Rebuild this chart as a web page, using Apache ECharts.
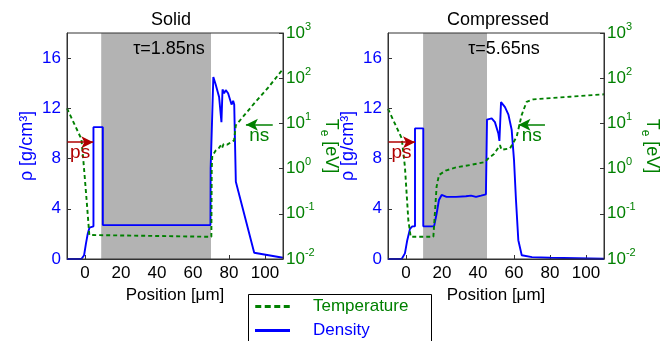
<!DOCTYPE html>
<html>
<head>
<meta charset="utf-8">
<script src="https://cdn.jsdelivr.net/npm/echarts@6/dist/echarts.min.js"></script>
<style>
  html, body { margin: 0; padding: 0; background: #fff; }
  #chart { width: 667px; height: 341px; }
</style>
</head>
<body>
<div id="chart"></div>
<script>
// Solid, tau = 1.85 ns : [position um, value]
const solidDensity = [
  [-10, 0], [-2, 0], [-0.5, 0.3], [0.5, 1.2], [1.5, 2.0], [2.5, 2.5], [3.2, 2.6], [4.7, 2.6],
  [4.7, 10.5], [9.9, 10.5], [9.9, 2.7], [69.7, 2.7], [69.8, 7.2], [70.4, 7.3], [71.3, 14.5],
  [72.6, 13.9], [74.5, 12.9], [75.8, 10.9], [76.4, 13.5], [77.3, 13.2], [78.2, 13.45],
  [79.5, 13.2], [80.6, 13.05], [81.4, 12.3], [82.3, 12.6], [82.9, 12.3], [83.5, 12.3],
  [83.8, 6.15], [94, 0.5], [110, 0.1]
]
const solidTemp = [
  [-10, 21.5], [-2, 4.5], [-0.9, 1.5], [0.9, 0.2], [2.4, 0.034], [3.2, 0.031], [70.2, 0.031],
  [70.4, 1.0], [70.7, 1.9], [72.6, 2.5], [74, 2.7], [75.5, 3.3], [76.2, 2.9], [77, 3.5],
  [79, 3.4], [82.8, 4.2], [83.8, 9.1], [94, 27.6], [101.5, 60], [110, 160]
]
// Compressed, tau = 5.65 ns
const compDensity = [
  [-10, 0], [-2.4, 0], [-0.6, 0.45], [0.7, 1.5], [2.2, 2.4], [3.5, 2.6], [5, 2.6], [5, 10.4],
  [9.6, 10.4], [9.6, 2.6], [15.6, 2.6], [17, 3.6], [18.3, 4.7], [19.8, 5.1], [22.5, 4.95],
  [27.8, 4.95], [33.3, 5.0], [36.1, 5.05], [38.9, 4.95], [41.7, 5.05], [44.4, 5.15],
  [45.0, 11.1], [47.6, 11.2], [49.4, 10.9], [51.3, 10.0], [51.9, 9.4], [52.8, 12.5],
  [55, 12.1], [56.9, 11.5], [58.7, 10.3], [60, 7.9], [61.1, 4.7], [62.4, 1.5], [64.3, 0.3],
  [70, 0.15], [80, 0.1], [110, 0.02]
]
const compTemp = [
  [-10, 21], [-2.4, 4.7], [-0.6, 1.1], [1.3, 0.072], [2.6, 0.031], [15.2, 0.031], [17, 0.4],
  [18.3, 0.72], [22, 0.9], [28, 1.07], [35.6, 1.2], [43.9, 1.4], [45.6, 1.66], [48.9, 2.1],
  [52.2, 3.3], [53.1, 2.6], [57.8, 2.8], [61.5, 5.1], [64.3, 15.5], [67, 30], [70.7, 34],
  [91.1, 39], [110, 44]
]
// axis ticks
const xTicks = [0, 20, 40, 60, 80, 100]
const rhoTicks = [0, 4, 8, 12, 16]
// shaded regions and arrows (data coords)
const solidShade = [9, 70]
const compShade = [9.5, 45]
const solidPs = [-10, 4.6], solidNs = [104.3, 89.4]
const compPs = [-10, 5], compNs = [77.2, 62.5]
const arrowRho = 9.3
const titles = ['Solid', 'Compressed']
const taus = ['τ=1.85ns', 'τ=5.65ns']

const BLUE = '#0000ff'
const GREEN = '#008000'
const RED = '#b00000'
const FONT = 'Liberation Sans, Arial, sans-serif'

const chart = echarts.init(document.getElementById('chart'), null, { renderer: 'canvas' })

const grids = [
  { left: 67, top: 33, width: 216, height: 226 },
  { left: 388, top: 33, width: 216, height: 226 },
]

const xAxes = grids.map((g, i) => ({
  gridIndex: i,
  type: 'value',
  min: -10,
  max: 110,
  name: 'Position [μm]',
  nameLocation: 'middle',
  nameGap: 20,
  nameTextStyle: { color: '#000', fontSize: 17, fontFamily: FONT },
  axisLine: { onZero: false, lineStyle: { color: '#333' } },
  axisTick: { inside: true, length: 4, customValues: xTicks, lineStyle: { color: '#333' } },
  axisLabel: { color: '#000', fontSize: 17, fontFamily: FONT, margin: 6, customValues: xTicks },
  splitLine: { show: false },
}))

const logLabel = (v) => '{b|10}{s|' + Math.round(Math.log10(v)) + '}'

const yAxes = []
grids.forEach((g, i) => {
  yAxes.push({
    gridIndex: i,
    type: 'value',
    position: 'left',
    min: 0,
    max: 18,
    name: 'ρ [g/cm³]',
    nameLocation: 'middle',
    nameGap: 31,
    nameTextStyle: { color: BLUE, fontSize: 18, fontFamily: FONT },
    axisLine: { show: true, onZero: false, lineStyle: { color: '#333' } },
    axisTick: { inside: true, length: 4, customValues: rhoTicks, lineStyle: { color: '#333' } },
    axisLabel: { color: BLUE, fontSize: 17, fontFamily: FONT, margin: 6, customValues: rhoTicks },
    splitLine: { show: false },
  })
  yAxes.push({
    gridIndex: i,
    type: 'log',
    logBase: 10,
    position: 'right',
    min: 0.01,
    max: 1000,
    name: 'T{s|e} [eV]',
    nameLocation: 'middle',
    nameRotate: -90,
    nameGap: 30 + i,
    nameTextStyle: {
      color: GREEN, fontSize: 18, fontFamily: FONT, lineHeight: 24,
      rich: { s: { color: GREEN, fontSize: 12, fontFamily: FONT, verticalAlign: 'bottom', lineHeight: 12 } },
    },
    axisLine: { show: true, onZero: false, lineStyle: { color: '#333' } },
    axisTick: { inside: true, length: 4, lineStyle: { color: '#333' } },
    axisLabel: {
      margin: 3,
      formatter: logLabel,
      rich: {
        b: { color: GREEN, fontSize: 17, fontFamily: FONT, lineHeight: 24 },
        s: { color: GREEN, fontSize: 11, fontFamily: FONT, verticalAlign: 'top', lineHeight: 11 },
      },
    },
    splitLine: { show: false },
  })
})

const arrowLine = (x0, x1, text, color) => ({
  silent: true,
  symbol: ['none', 'arrow'],
  symbolSize: [9, 12],
  animation: false,
  lineStyle: { color: color, type: 'solid', width: 1.5 },
  label: { show: true, formatter: text, position: 'insideMiddleBottom', distance: 1, color: color, fontSize: 19, fontFamily: FONT },
  emphasis: { disabled: true },
  data: [[{ coord: [x0, arrowRho] }, { coord: [x1, arrowRho] }]],
})

const panels = [
  { rho: solidDensity, te: solidTemp, shade: solidShade, ps: solidPs, ns: solidNs },
  { rho: compDensity, te: compTemp, shade: compShade, ps: compPs, ns: compNs },
]

const series = []
panels.forEach((p, i) => {
  series.push({
    name: 'Shade' + i,
    type: 'line',
    xAxisIndex: i,
    yAxisIndex: 2 * i,
    data: [],
    z: 1,
    markArea: {
      silent: true,
      itemStyle: { color: '#b3b3b3', opacity: 1 },
      data: [[{ xAxis: p.shade[0] }, { xAxis: p.shade[1] }]],
    },
  })
  series.push({
    name: 'Density',
    type: 'line',
    xAxisIndex: i,
    yAxisIndex: 2 * i,
    data: p.rho,
    showSymbol: false,
    symbol: 'none',
    z: 3,
    lineStyle: { color: BLUE, width: 1.9 },
    itemStyle: { color: BLUE },
    markLine: arrowLine(p.ps[0], p.ps[1], 'ps', RED),
  })
  series.push({
    name: 'Temperature',
    type: 'line',
    xAxisIndex: i,
    yAxisIndex: 2 * i + 1,
    data: p.te,
    showSymbol: false,
    symbol: 'none',
    z: 3,
    lineStyle: { color: GREEN, width: 1.9, type: [4, 3] },
    itemStyle: { color: GREEN },
    markLine: arrowLine(p.ns[0], p.ns[1], 'ns', GREEN),
  })
})

const graphic = []
grids.forEach((g, i) => {
  const cx = g.left + g.width / 2
  graphic.push({
    type: 'text', x: cx - 4 + i * 6, y: 11, z: 100,
    style: { text: titles[i], fill: '#000', font: '18px ' + FONT, textAlign: 'center' },
  })
  graphic.push({
    type: 'text', x: cx - 6 + i * 14, y: 40, z: 100,
    style: { text: taus[i], fill: '#000', font: '18px ' + FONT, textAlign: 'center' },
  })
})
// frames around the plots
grids.forEach((g) => {
  graphic.push({
    type: 'rect', x: g.left, y: g.top, silent: true, z: 100,
    shape: { width: g.width, height: g.height },
    style: { fill: 'none', stroke: '#333', lineWidth: 1 },
  })
})
// legend box (runs off the bottom edge)
graphic.push({
  type: 'rect', x: 248.5, y: 294.5, silent: true, z: 50,
  shape: { width: 183, height: 60 },
  style: { fill: '#fff', stroke: '#000', lineWidth: 1 },
})

const dashIcon = 'path://M0,0h6v3h-6z M9.5,0h6v3h-6z M19,0h6v3h-6z M28.5,0h6v3h-6z'
const solidIcon = 'path://M0,0h35v3h-35z'

const option = {
  animation: false,
  backgroundColor: '#fff',
  grid: grids.map((g) => ({ ...g, containLabel: false })),
  xAxis: xAxes,
  yAxis: yAxes,
  legend: {
    orient: 'vertical',
    left: 248,
    top: 294,
    z: 60,
    padding: [4, 8, 0, 7],
    itemGap: 7,
    itemWidth: 35,
    itemHeight: 3,
    textStyle: { fontSize: 17, fontFamily: FONT, padding: [0, 0, 0, 18], lineHeight: 17 },
    data: [
      { name: 'Temperature', icon: dashIcon, itemStyle: { color: GREEN }, textStyle: { color: GREEN } },
      { name: 'Density', icon: solidIcon, itemStyle: { color: BLUE }, textStyle: { color: BLUE } },
    ],
  },
  graphic: graphic,
  series: series,
}

option && chart.setOption(option)
</script>
</body>
</html>
